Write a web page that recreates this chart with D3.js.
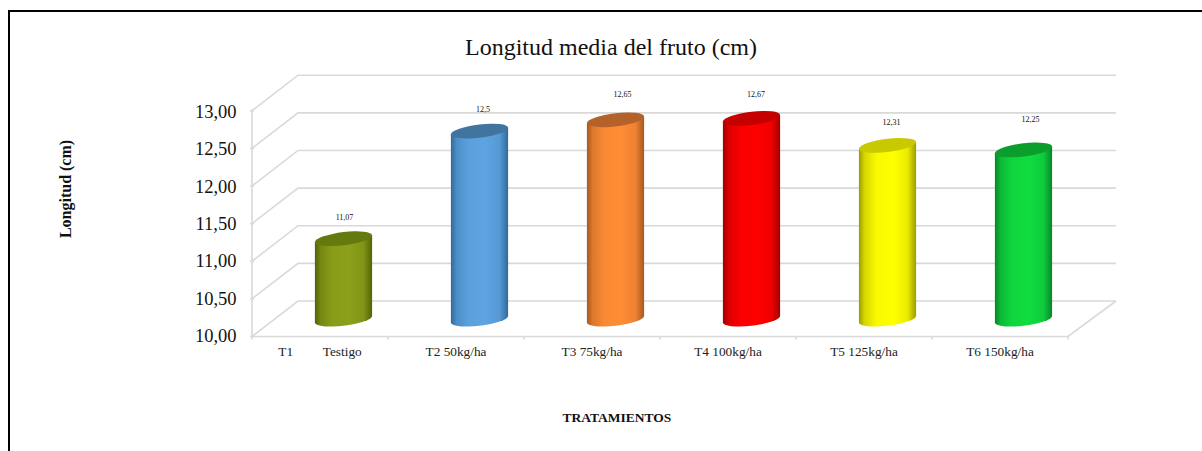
<!DOCTYPE html>
<html lang="es">
<head>
<meta charset="utf-8">
<title>Longitud media del fruto (cm)</title>
<script src="https://cdn.jsdelivr.net/npm/d3@7"></script>
<style>
  html, body { margin: 0; padding: 0; background: #fff; overflow: hidden; }
  svg { display: block; font-family: "Liberation Serif", serif; }
</style>
</head>
<body>
<div id="chart"></div>
<script>
// Mean fruit length per treatment
const categories = ["T1         Testigo", "T2 50kg/ha", "T3 75kg/ha", "T4 100kg/ha", "T5 125kg/ha", "T6 150kg/ha"];
const lengths = [11.07, 12.5, 12.65, 12.67, 12.31, 12.25];
const valueLabels = ["11,07", "12,5", "12,65", "12,67", "12,31", "12,25"];
const tickValues = [10, 10.5, 11, 11.5, 12, 12.5, 13];

// Cylinder palette: side centre, side edge, top cap
const sideColors = ["#8ca01a", "#5ea4e2", "#ff8c35", "#ff0000", "#ffff00", "#10dc40"];
const edgeColors = ["#566207", "#316a9b", "#a65a20", "#a30000", "#9c9c00", "#08852a"];
const capColors = ["#657a0e", "#41749f", "#b5622a", "#c40000", "#c9c900", "#0c9e2c"];

// Hand placement of each value label relative to its cylinder cap, in pixels
const labelShift = [1, 3.5, 7, 4.5, 4, 7];
const labelLift = [21.5, 21.5, 25, 23.5, 22.5, 30.5];

const width = 1202, height = 451;
const depth = { x: 46, y: -35.5 };
const floorY = 336.5, ceilY = 110.7;
const backRight = 1116;

const svg = d3.select("#chart").append("svg")
  .attr("width", width).attr("height", height);

const x = d3.scaleBand().domain(categories).range([252, 1068]);
const y = d3.scaleLinear().domain([10, 13]).range([floorY, ceilY]);
const tickLabelY = d3.scaleLinear().domain([10, 13]).range([342, 118]);

// Frame around the figure
svg.append("path")
  .attr("d", `M9,${height}V11H${width}`)
  .attr("fill", "none").attr("stroke", "#000").attr("stroke-width", 2);

// Walls and floor of the 3D plot box
const grid = svg.append("g").attr("fill", "none").attr("stroke", "#d9d9d9").attr("stroke-width", 1.6);
tickValues.forEach(v => {
  const py = y(v);
  grid.append("path").attr("d",
    `M${x.range()[0]},${py}L${x.range()[0] + depth.x},${py + depth.y}H${backRight}`);
});
grid.append("path").attr("d",
  `M${x.range()[0]},${ceilY}V${floorY}H${x.range()[1]}L${backRight},${floorY + depth.y}`);

// Axis ticks on the front edges
grid.selectAll("path.xtick").data(categories.concat(null)).join("path")
  .attr("class", "xtick")
  .attr("d", (d, i) => `M${252 + i * x.step()},${floorY}v3`);
grid.selectAll("path.ytick").data(tickValues).join("path")
  .attr("class", "ytick")
  .attr("d", d => `M${x.range()[0] - 2},${y(d)}h4`);

// Value axis labels
svg.append("g").selectAll("text").data(tickValues).join("text")
  .attr("x", 236.5).attr("y", d => tickLabelY(d))
  .attr("text-anchor", "end").attr("font-size", 18.5).attr("fill", "#111")
  .text(d => d.toFixed(2).replace(".", ","));

// Category labels
svg.append("g").selectAll("text").data(categories).join("text")
  .attr("x", d => x(d) + x.bandwidth() / 2).attr("y", 356)
  .attr("text-anchor", "middle").attr("font-size", 13.3).attr("fill", "#222")
  .style("white-space", "pre")
  .text(d => d);

// Cylinders sit half way into the box depth; a vertical shear keeps their sides
// tangent to the sheared end ellipses
const rx = 28.6, ry = 6.6, shear = 0.115;
const centerX = d => x(d) + x.bandwidth() / 2 + depth.x / 2 + 0.5;
const centerY = v => y(v) + depth.y / 2 + 0.5;

const defs = svg.append("defs");
categories.forEach((c, i) => {
  const mix = d3.interpolateRgb(edgeColors[i], sideColors[i]);
  const g = defs.append("linearGradient").attr("id", `side${i}`);
  [[0, edgeColors[i]], [0.1, mix(0.6)], [0.3, mix(0.93)],
   [0.6, sideColors[i]], [0.85, mix(0.8)], [1, edgeColors[i]]].forEach(([o, col]) => {
    g.append("stop").attr("offset", o).attr("stop-color", col);
  });
});

const bars = svg.append("g").selectAll("g").data(categories).join("g");

const sheared = bars.append("g")
  .attr("transform", (d, i) => `matrix(1,${-shear},0,1,${centerX(d)},${centerY(lengths[i])})`);

sheared.append("path")
  .attr("fill", (d, i) => `url(#side${i})`)
  .attr("d", (d, i) => {
    const h = centerY(10) - centerY(lengths[i]);
    return `M${-rx},0H${rx}V${h}A${rx},${ry} 0 0 1 ${-rx},${h}Z`;
  });

sheared.append("ellipse")
  .attr("rx", rx).attr("ry", ry)
  .attr("fill", (d, i) => capColors[i]);

bars.append("text")
  .attr("x", (d, i) => centerX(d) + labelShift[i])
  .attr("y", (d, i) => centerY(lengths[i]) - labelLift[i] + 2.5)
  .attr("text-anchor", "middle").attr("font-size", 8).attr("fill", "#111")
  .text((d, i) => valueLabels[i]);

// Titles
svg.append("text").attr("x", 611).attr("y", 55)
  .attr("text-anchor", "middle").attr("font-size", 24).attr("fill", "#111")
  .text("Longitud media del fruto (cm)");

svg.append("text")
  .attr("transform", "translate(71,189) rotate(-90)")
  .attr("text-anchor", "middle").attr("font-size", 16).attr("font-weight", "bold").attr("fill", "#111")
  .text("Longitud (cm)");

svg.append("text").attr("x", 617).attr("y", 422)
  .attr("text-anchor", "middle").attr("font-size", 13.5).attr("font-weight", "bold").attr("fill", "#111")
  .text("TRATAMIENTOS");
</script>
</body>
</html>
